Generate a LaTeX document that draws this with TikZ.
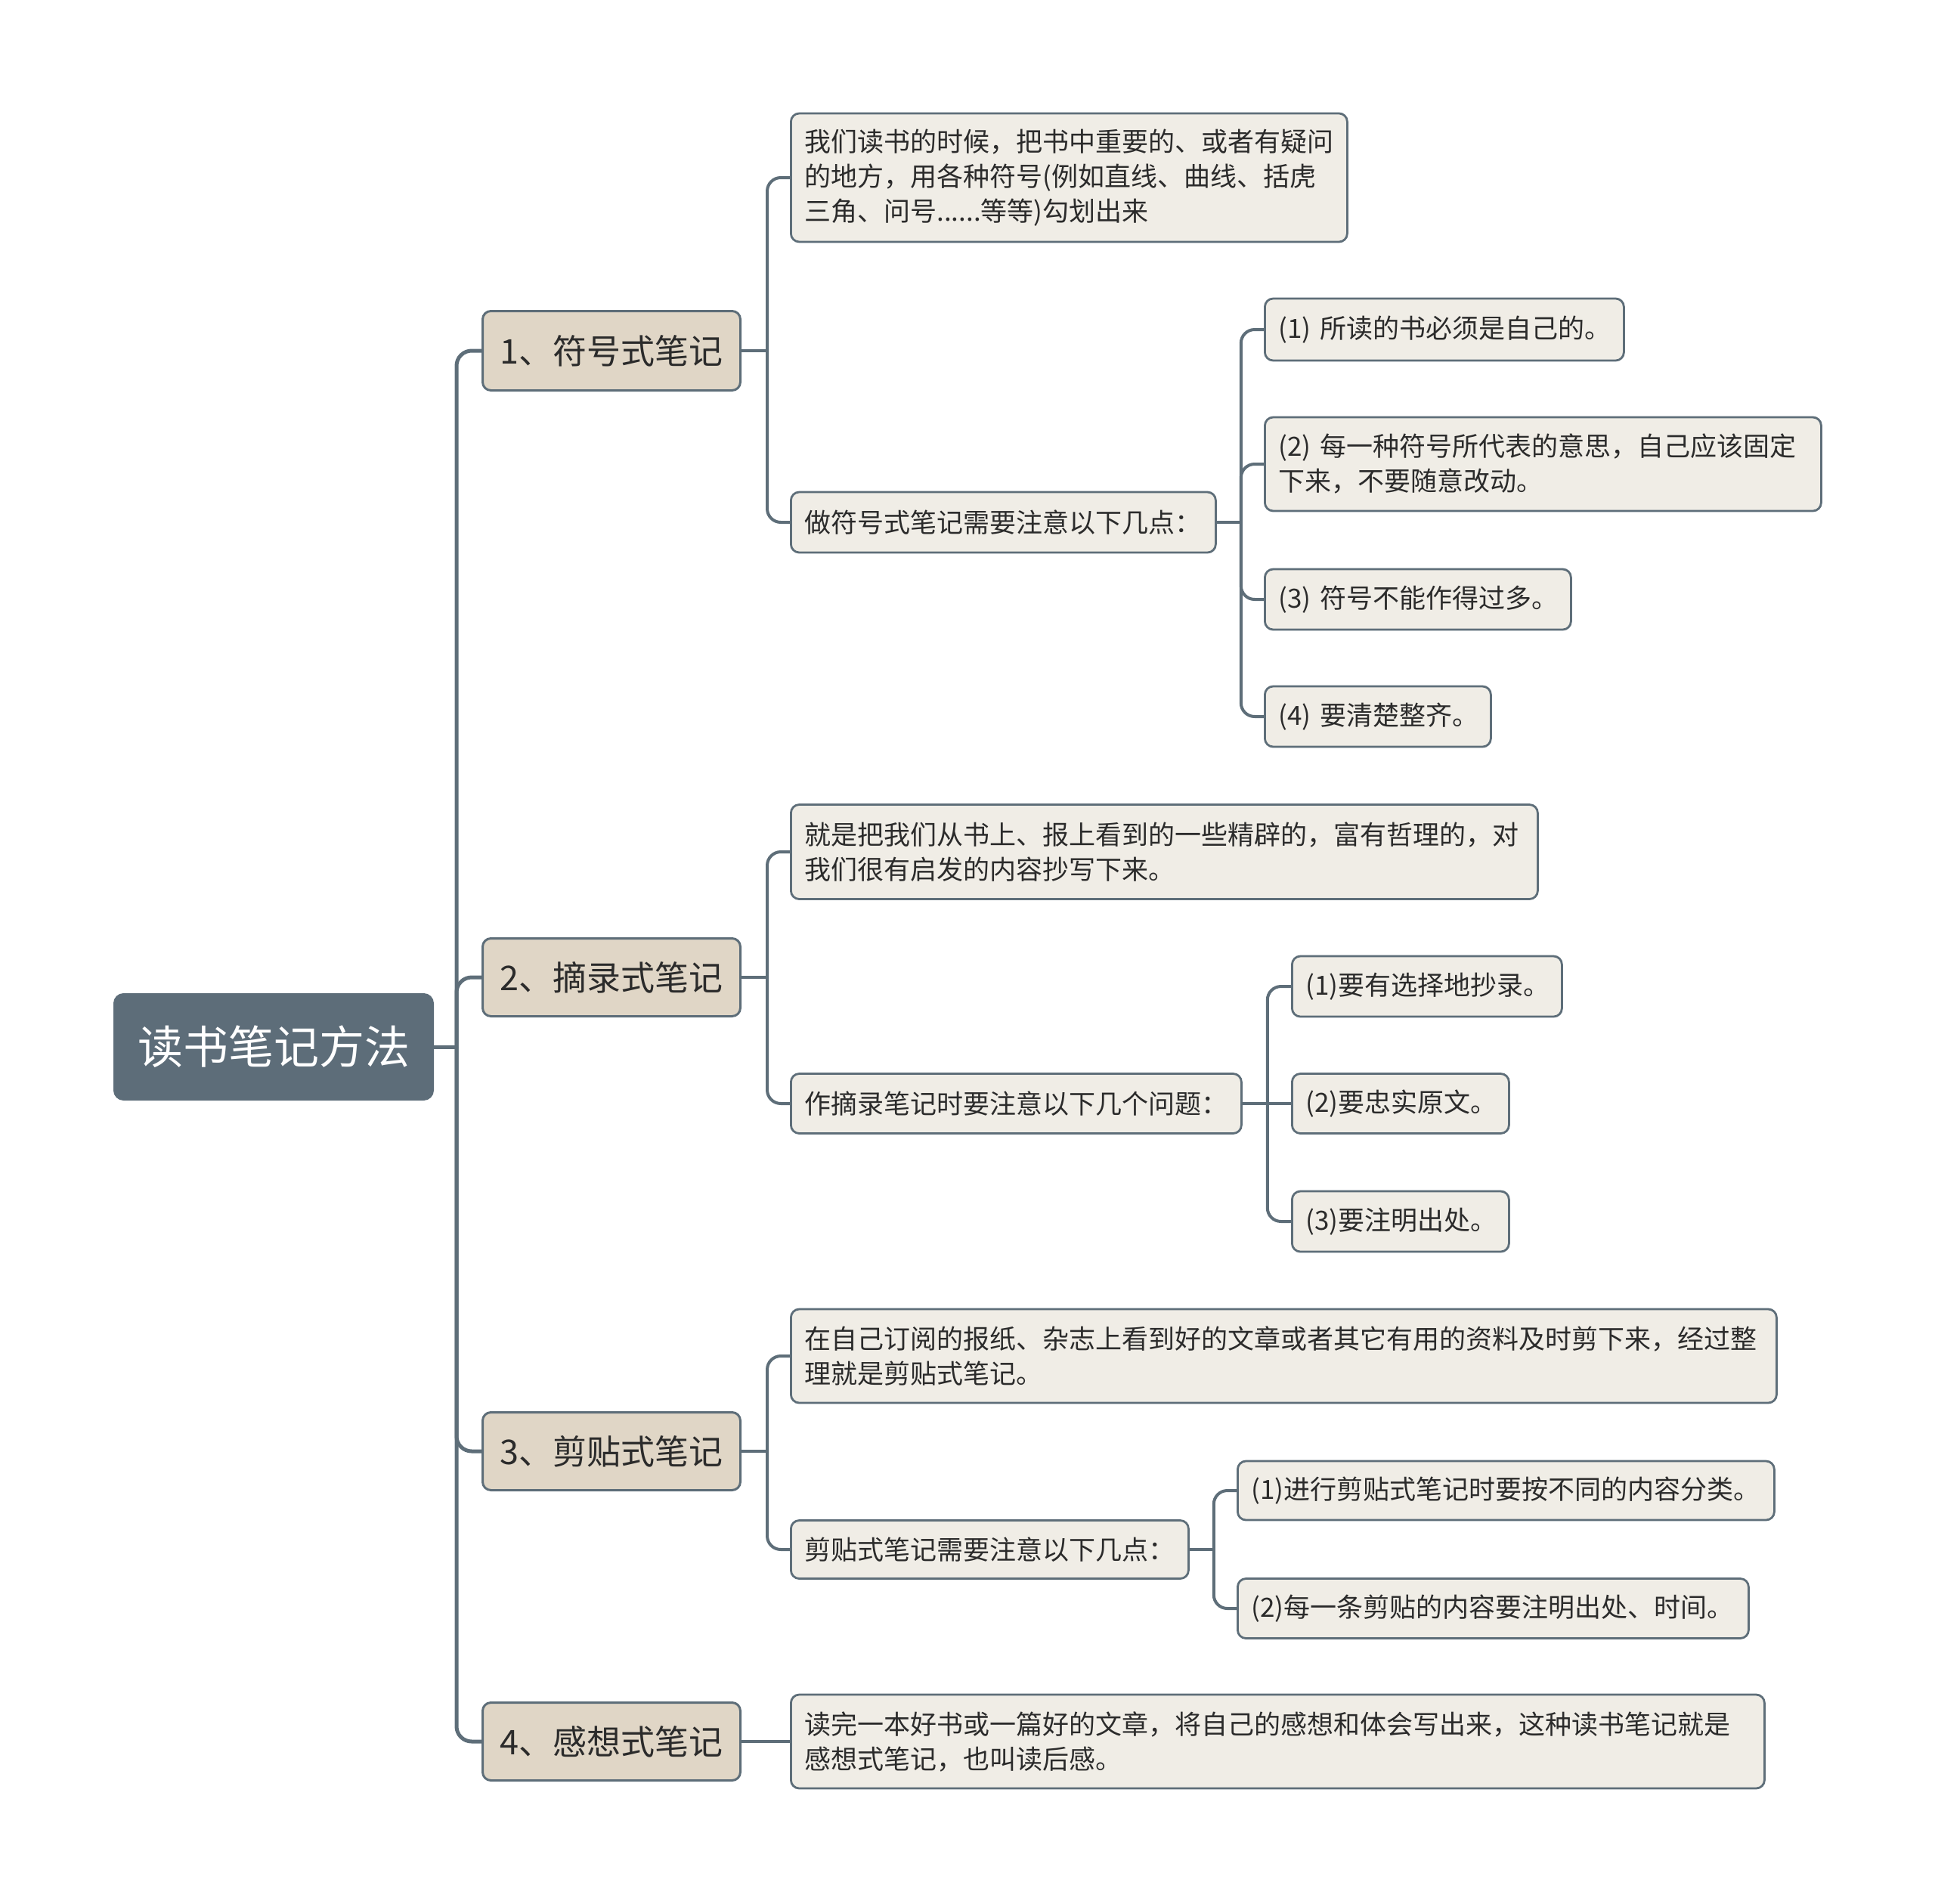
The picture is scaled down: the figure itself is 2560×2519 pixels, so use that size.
\documentclass[tikz,border=0pt]{standalone}
\usepackage{fontspec}
\setmainfont{Noto Sans CJK SC}
\usetikzlibrary{calc}
\definecolor{linec}{HTML}{5E6E79}
\definecolor{rootc}{HTML}{5D6D79}
\definecolor{lonec}{HTML}{E0D6C6}
\definecolor{leafc}{HTML}{F0EDE6}
\definecolor{textc}{HTML}{2B2B2B}
\tikzset{
  rootbox/.style={draw=rootc, fill=rootc, line width=3pt, rounded corners=12pt, anchor=west,
    text=white, align=center, font=\fontsize{60}{70}\selectfont, inner sep=0pt},
  lonebox/.style={draw=linec, fill=lonec, line width=3pt, rounded corners=11pt, anchor=west,
    text=textc, align=center, font=\fontsize{45}{54}\selectfont, inner sep=0pt},
  leafbox/.style={draw=linec, fill=leafc, line width=2.8pt, rounded corners=11pt, anchor=west,
    text=textc, align=left, font=\fontsize{35}{46}\selectfont, inner xsep=18pt, inner ysep=0pt},
  trunk/.style={draw=linec, line width=5pt, rounded corners=20pt},
  branch/.style={draw=linec, line width=4pt, rounded corners=18pt},
}
\begin{document}
\begin{tikzpicture}[x=1pt,y=-1pt]
\useasboundingbox (0,0) rectangle (2560,2519);
% root
\node[rootbox, minimum width=421pt, minimum height=139pt] (root) at (150,1385) {读书笔记方法};
% level 1
\node[lonebox, minimum width=341pt, minimum height=105pt] (n1) at (637,464) {1、符号式笔记};
\node[lonebox, minimum width=341pt, minimum height=103pt] (n2) at (637,1293) {2、摘录式笔记};
\node[lonebox, minimum width=341pt, minimum height=103pt] (n3) at (637,1920) {3、剪贴式笔记};
\node[lonebox, minimum width=341pt, minimum height=103pt] (n4) at (637,2304) {4、感想式笔记};
% level 2
\node[leafbox, text width=700pt, minimum height=170pt] (a1) at (1045,235) {我们读书的时候，把书中重要的、或者有疑问\\的地方，用各种符号(例如直线、曲线、括虎\\三角、问号......等等)勾划出来};
\node[leafbox, text width=526pt, minimum height=80pt] (a2) at (1045,691) {做符号式笔记需要注意以下几点：};
\node[leafbox, text width=952pt, minimum height=125pt] (b1) at (1045,1127) {就是把我们从书上、报上看到的一些精辟的，富有哲理的，对\\我们很有启发的内容抄写下来。};
\node[leafbox, text width=560pt, minimum height=79pt] (b2) at (1045,1460) {作摘录笔记时要注意以下几个问题：};
\node[leafbox, text width=1268pt, minimum height=124pt] (c1) at (1045,1794) {在自己订阅的报纸、杂志上看到好的文章或者其它有用的资料及时剪下来，经过整\\理就是剪贴式笔记。};
\node[leafbox, text width=490pt, minimum height=77pt] (c2) at (1045,2050) {剪贴式笔记需要注意以下几点：};
\node[leafbox, text width=1252pt, minimum height=124pt] (d1) at (1045,2304) {读完一本好书或一篇好的文章，将自己的感想和体会写出来，这种读书笔记就是\\感想式笔记，也叫读后感。};
% level 3
\node[leafbox, text width=439pt, minimum height=82pt] (a21) at (1672,436) {(1)~所读的书必须是自己的。};
\node[leafbox, text width=700pt, minimum height=124pt] (a22) at (1672,614) {(2)~每一种符号所代表的意思，自己应该固定\\下来，不要随意改动。};
\node[leafbox, text width=369pt, minimum height=80pt] (a23) at (1672,793) {(3)~符号不能作得过多。};
\node[leafbox, text width=263pt, minimum height=80pt] (a24) at (1672,948) {(4)~要清楚整齐。};
\node[leafbox, text width=321pt, minimum height=80pt] (b21) at (1708,1305) {(1)要有选择地抄录。};
\node[leafbox, text width=251pt, minimum height=79pt] (b22) at (1708,1460) {(2)要忠实原文。};
\node[leafbox, text width=251pt, minimum height=80pt] (b23) at (1708,1616) {(3)要注明出处。};
\node[leafbox, text width=674pt, minimum height=78pt] (c21) at (1636,1972) {(1)进行剪贴式笔记时要按不同的内容分类。};
\node[leafbox, text width=640pt, minimum height=79pt] (c22) at (1636,2128) {(2)每一条剪贴的内容要注明出处、时间。};
% connectors: root
\coordinate (jr) at (604,1385);
\draw[trunk] (root.east) -- (jr);
\draw[trunk] (jr) |- (n1.west);
\draw[trunk] (jr) |- (n2.west);
\draw[trunk] (jr) |- (n3.west);
\draw[trunk] (jr) |- (n4.west);
% level 1 -> level 2
\coordinate (j1) at ($(n1.east)+(34,0)$);
\draw[branch] (n1.east) -- (j1);
\draw[branch] (j1) |- (a1.west);
\draw[branch] (j1) |- (a2.west);
\coordinate (j2) at ($(n2.east)+(34,0)$);
\draw[branch] (n2.east) -- (j2);
\draw[branch] (j2) |- (b1.west);
\draw[branch] (j2) |- (b2.west);
\coordinate (j3) at ($(n3.east)+(34,0)$);
\draw[branch] (n3.east) -- (j3);
\draw[branch] (j3) |- (c1.west);
\draw[branch] (j3) |- (c2.west);
\draw[branch] (n4.east) -- (d1.west);
% level 2 -> level 3
\coordinate (ja) at ($(a2.east)+(32,0)$);
\draw[branch] (a2.east) -- (ja);
\draw[branch] (ja) |- (a21.west);
\draw[branch] (ja) |- (a22.west);
\draw[branch] (ja) |- (a23.west);
\draw[branch] (ja) |- (a24.west);
\coordinate (jb) at ($(b2.east)+(33,0)$);
\draw[branch] (b2.east) -- (jb);
\draw[branch] (jb) |- (b21.west);
\draw[branch] (jb) -- (b22.west);
\draw[branch] (jb) |- (b23.west);
\coordinate (jc) at ($(c2.east)+(32,0)$);
\draw[branch] (c2.east) -- (jc);
\draw[branch] (jc) |- (c21.west);
\draw[branch] (jc) |- (c22.west);
\end{tikzpicture}
\end{document}
